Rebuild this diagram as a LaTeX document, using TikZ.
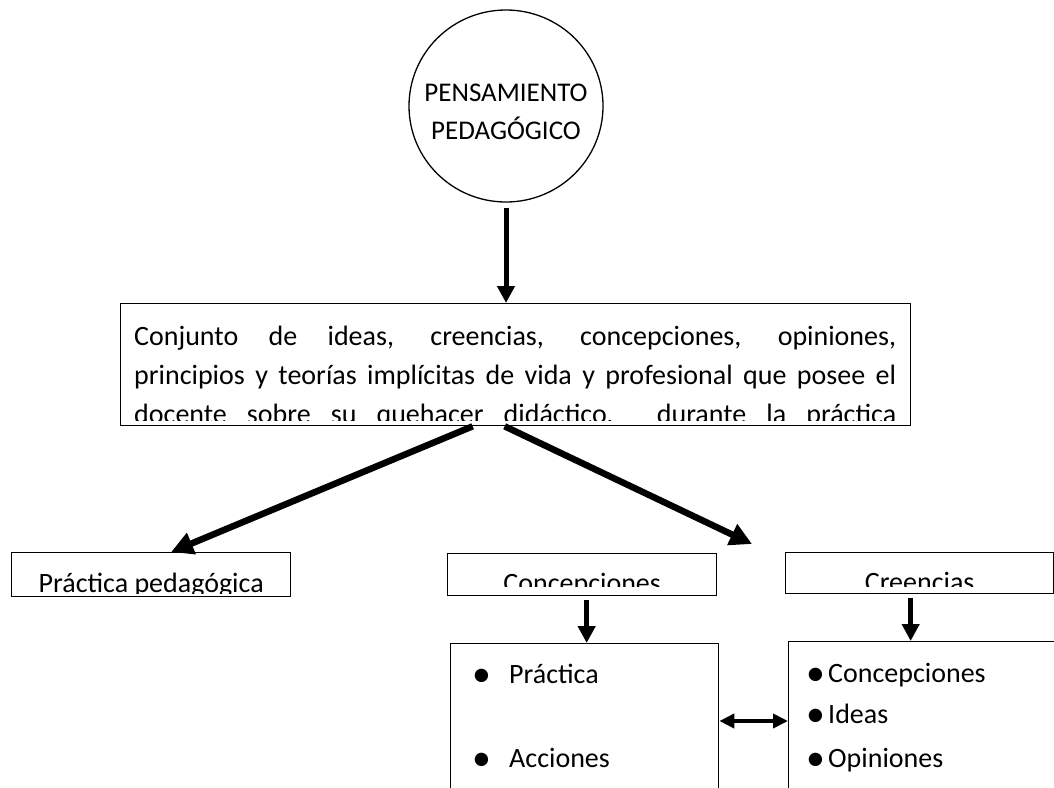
\documentclass[tikz,border=0pt]{standalone}
\usepackage{fontspec}
\usepackage{graphicx}
\setmainfont{Carlito}
\usetikzlibrary{arrows.meta,shapes.geometric}

\newcommand{\vineta}{\raisebox{-3pt}{\scalebox{1.35}{•}}}

\tikzset{
  caja/.style={draw,line width=1.3pt,inner sep=0pt,rectangle},
  linea/.style={anchor=base west,inner sep=0pt,font=\fontsize{28}{39}\selectfont},
  titulo/.style={anchor=base,inner sep=0pt,font=\fontsize{28}{34}\selectfont},
  punto/.style={anchor=base west,inner sep=0pt,font=\fontsize{28}{34}\selectfont},
  flecha/.style={-{Triangle[length=17pt,width=17pt]},line width=5pt},
  flechagruesa/.style={-{Triangle[length=22pt,width=22pt]},line width=6.5pt},
  flechacorta/.style={-{Triangle[length=17pt,width=17pt]},line width=4.5pt},
  doble/.style={{Triangle[length=15pt,width=14pt]}-{Triangle[length=15pt,width=14pt]},line width=4.5pt}
}

\begin{document}
\begin{tikzpicture}[x=1pt,y=-1pt]
\clip (0,0) rectangle (1054,787);

\node[draw,ellipse,line width=1.3pt,minimum width=194pt,minimum height=192pt,inner sep=0pt] (pensamiento) at (506,106) {};
\node[align=center,inner sep=0pt,font=\fontsize{27}{38}\selectfont] (titular) at ([yshift=-6pt]pensamiento.center) {PENSAMIENTO\\PEDAG\'OGICO};

% caja central
\node[caja,minimum width=790pt,minimum height=122pt,anchor=north west] (conjunto) at (120,303) {};
\begin{scope}
\clip (conjunto.north west) rectangle ([yshift=5.5pt]conjunto.south east);
\node[linea] (linea1) at (134,345) {\makebox[762pt][s]{Conjunto de ideas, creencias, concepciones, opiniones,}};
\node[linea] (linea2) at (134,384.3) {\makebox[762pt][s]{principios y teorías implícitas de vida y profesional que posee el}};
\node[linea] (linea3) at (134,423.6) {\makebox[762pt][s]{docente sobre su quehacer didáctico, \ durante la práctica}};
\end{scope}

% cajas del medio
\node[caja,minimum width=279pt,minimum height=44pt,anchor=north west] (practped) at (11,552) {};
\node[caja,minimum width=269pt,minimum height=42pt,anchor=north west] (concep) at (447,553) {};
\node[caja,minimum width=268pt,minimum height=41pt,anchor=north west] (creen) at (785,552) {};
\begin{scope}
\clip (practped.north west) rectangle ([yshift=4pt]practped.south east);
\node[titulo] at ([yshift=5pt]practped.south) {Práctica pedagógica};
\end{scope}
\begin{scope}
\clip (concep.north west) rectangle ([yshift=10pt]concep.south east);
\node[titulo] at ([yshift=4pt]concep.south) {Concepciones};
\end{scope}
\begin{scope}
\clip (creen.north west) rectangle ([yshift=8pt]creen.south east);
\node[titulo] at ([yshift=3pt]creen.south) {Creencias};
\end{scope}

% cajas de abajo
\node[caja,minimum width=268pt,minimum height=170pt,anchor=north west] (practica) at (450,643) {};
\node[caja,minimum width=270pt,minimum height=170pt,anchor=north west] (opiniones) at (788,641) {};

\node[punto] at ([shift={(22pt,-40pt)}]practica.north west) {\makebox[37pt][l]{\vineta}Práctica};
\node[punto] at ([shift={(22pt,-124pt)}]practica.north west) {\makebox[37pt][l]{\vineta}Acciones};
\node[punto] at ([shift={(18pt,-41pt)}]opiniones.north west) {\makebox[22pt][l]{\vineta}Concepciones};
\node[punto] at ([shift={(18pt,-82pt)}]opiniones.north west) {\makebox[22pt][l]{\vineta}Ideas};
\node[punto] at ([shift={(18pt,-126pt)}]opiniones.north west) {\makebox[22pt][l]{\vineta}Opiniones};

\coordinate (libre) at (752,544);

\draw[flecha] ([yshift=-5pt]pensamiento.south) -- (pensamiento.south |- conjunto.north);
\draw[flechagruesa] ([xshift=-43pt]conjunto.south) -- ([xshift=20pt]practped.north);
\draw[flechagruesa] ([xshift=-11pt]conjunto.south) -- (libre);
\draw[flechacorta] ([shift={(4.5pt,-4pt)}]concep.south) -- ([xshift=4.5pt]concep.south |- practica.north);
\draw[flechacorta] ([shift={(-9pt,-4pt)}]creen.south) -- ([xshift=-9pt]creen.south |- opiniones.north);
\draw[doble] ([yshift=-78pt]practica.north east) -- ([yshift=-80pt]opiniones.north west);
\end{tikzpicture}
\end{document}
